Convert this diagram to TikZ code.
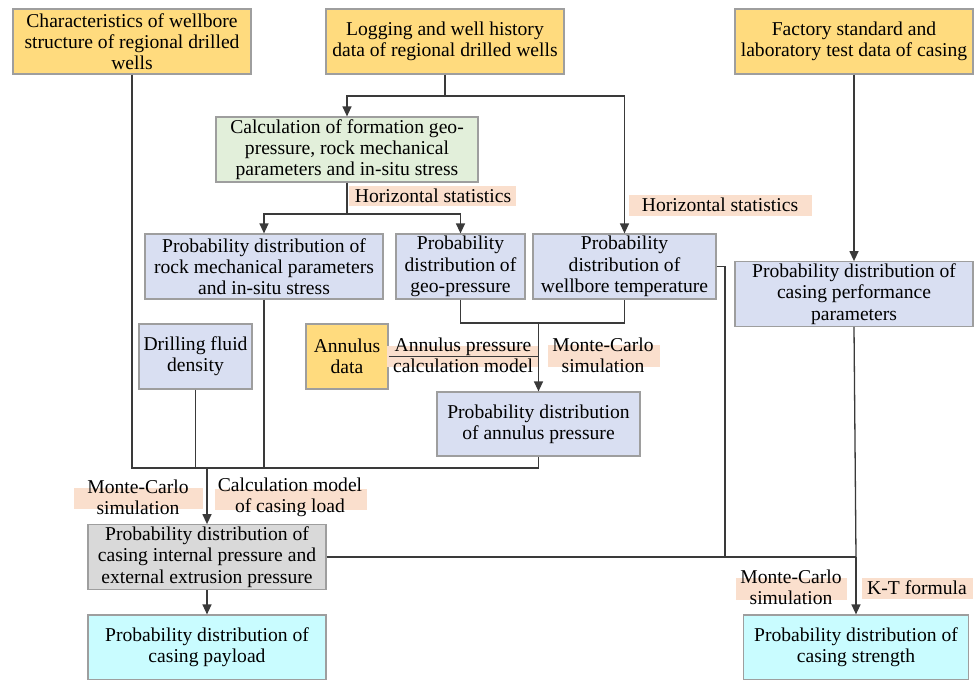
\documentclass[tikz,border=0pt]{standalone}
\usepackage{fontspec}
\setmainfont{LiberationSerif}[Extension=.ttf, UprightFont=*-Regular, BoldFont=*-Bold]
\usepackage{tikz}
\usetikzlibrary{arrows.meta}
\definecolor{srcyellow}{HTML}{FFDB7E}
\definecolor{calcgreen}{HTML}{E2EFDA}
\definecolor{distblue}{HTML}{D9DFF2}
\definecolor{loadgray}{HTML}{D9D9D9}
\definecolor{resultcyan}{HTML}{C9FCFF}
\definecolor{tagpeach}{HTML}{FADFCD}
\definecolor{boxgray}{HTML}{9E9E9E}
\definecolor{linegray}{HTML}{3A3A3A}

\begin{document}
\begin{tikzpicture}[x=0.5pt, y=-0.5pt, font=\fontsize{9.8}{10.65}\selectfont,
  >={Triangle[length=5pt,width=4.5pt]},
  box/.style={draw=boxgray, line width=0.6pt, align=center, inner sep=1pt, minimum height=32.5pt},
  link/.style={draw=linegray, line width=0.65pt},
  tag/.style={align=center, inner sep=0pt}]
\useasboundingbox (0,0) rectangle (975,680);
% input data
\node[box, fill=srcyellow, minimum width=119pt] (structure) at (132,41.5)
  {Characteristics of wellbore\\structure of regional drilled\\wells};
\node[box, fill=srcyellow, minimum width=119pt] (logging) at (445,41.5)
  {Logging and well history\\data of regional drilled wells};
\node[box, fill=srcyellow, minimum width=119pt] (factory) at (854,41.5)
  {Factory standard and\\laboratory test data of casing};
% formation calculation
\node[box, fill=calcgreen, minimum width=131pt] (calc) at (347,149.5)
  {Calculation of formation geo-\\pressure, rock mechanical\\parameters and in-situ stress};
% probability distributions
\node[box, fill=distblue, minimum width=119pt] (rock) at (264,266.5)
  {Probability distribution of\\rock mechanical parameters\\and in-situ stress};
\node[box, fill=distblue, minimum width=64.5pt] (geo) at (460.5,266.5)
  {Probability\\distribution of\\geo-pressure};
\node[box, fill=distblue, minimum width=91.5pt] (temp) at (624.5,266.5)
  {Probability\\distribution of\\wellbore temperature};
\node[box, fill=distblue, minimum width=119pt, minimum height=32pt] (perf) at (854,294)
  {Probability distribution of\\casing performance\\parameters};
\node[box, fill=distblue, minimum width=56.5pt] (drill) at (195.5,356.5)
  {Drilling fluid\\density};
\node[box, fill=srcyellow, minimum width=41pt] (adata) at (347,356.5)
  {Annulus\\data};
\node[box, fill=distblue, minimum width=101.5pt, minimum height=32pt] (annp) at (538.5,424)
  {Probability distribution\\of annulus pressure};
% casing load and results
\node[box, fill=loadgray, minimum width=119pt, minimum height=32pt] (load) at (207,557)
  {Probability distribution of\\casing internal pressure and\\external extrusion pressure};
\node[box, fill=resultcyan, minimum width=119pt] (payload) at (207,647.5)
  {Probability distribution of\\casing payload};
\node[box, fill=resultcyan, minimum width=112.5pt] (strength) at (856,647.5)
  {Probability distribution of\\casing strength};
% highlight bands
\fill[tagpeach] (349,186) rectangle (516,206);
\fill[tagpeach] (629,195) rectangle (812,216);
\fill[tagpeach] (387,346) rectangle (538,367);
\fill[tagpeach] (548,345) rectangle (660,367);
\fill[tagpeach] (74,488) rectangle (203,509);
\fill[tagpeach] (215,489) rectangle (367,510);
\fill[tagpeach] (736,578) rectangle (847,600);
\fill[tagpeach] (862,578) rectangle (973,599);
% junctions
\coordinate (jtop) at (445,96);
\coordinate (jcalc) at (347,214);
\coordinate (jtemp) at (538.5,323);
\coordinate (jbus) at (207,468);
\coordinate (jside) at (725,557);
\coordinate (jload) at (856,557);
% connectors
\draw[link] (logging.south) -- (jtop);
\draw[link, ->] (jtop) -| (calc.north);
\draw[link, ->] (jtop) -| (temp.north);
\draw[link] (calc.south) -- (jcalc);
\draw[link, ->] (jcalc) -| (rock.north);
\draw[link, ->] (jcalc) -| (geo.north);
\draw[link, ->] (factory.south) -- (perf.north);
\draw[link] (geo.south) |- (jtemp) -| (temp.south);
\draw[link] (adata.east) -- (adata.east -| jtemp);
\draw[link, ->] (jtemp) -- (annp.north);
\draw[link] (structure.south) -- (structure.south |- jbus) -- (jbus -| annp.south) -- (annp.south);
\draw[link] (rock.south) -- (rock.south |- jbus);
\draw[link] (drill.south) -- (drill.south |- jbus);
\draw[link, ->] (jbus) -- (load.north);
\draw[link, ->] (load.south) -- (payload.north);
\draw[link] (temp.east) -| (jside);
\draw[link] (load.east) -- (jload);
\draw[link] (perf.south) -- (jload);
\draw[link, ->] (jload) -- (strength.north);
% labels
\node[tag] (hstat1) at (433,196) {Horizontal statistics};
\node[tag] (hstat2) at (720,205) {Horizontal statistics};
\node[tag] (apmodel) at (463,355) {Annulus pressure\\calculation model};
\node[tag] (mcannp) at (603,355) {Monte-Carlo\\simulation};
\node[tag] (mcload) at (138,497) {Monte-Carlo\\simulation};
\node[tag] (loadmodel) at (290,497) {Calculation model\\of casing load};
\node[tag] (mcstrength) at (791,587) {Monte-Carlo\\simulation};
\node[tag] (ktformula) at (917,588) {K-T formula};
\end{tikzpicture}
\end{document}
